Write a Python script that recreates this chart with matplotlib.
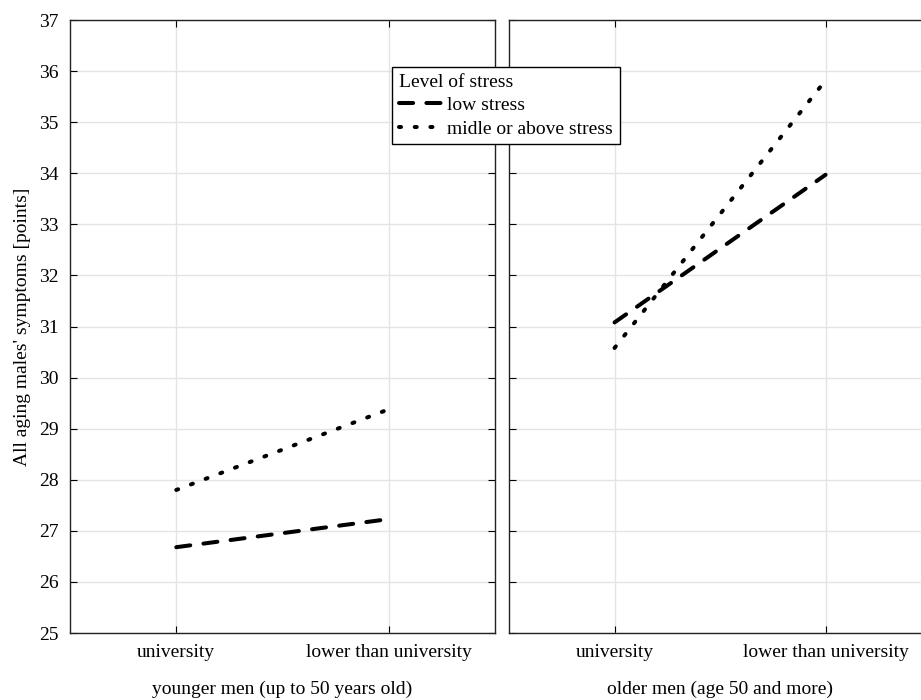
import matplotlib.pyplot as plt

# Дані з графіка
categories = ["university", "lower than university"]
groups = ["younger men (up to 50 years old)", "older men (age 50 and more)"]
low_stress = [[26.68, 27.23], [31.08, 33.97]]
midle_stress = [[27.8, 29.38], [30.58, 35.82]]
series_names = ["low stress", "midle or above stress"]

plt.rcParams['font.family'] = ['Liberation Serif', 'DejaVu Serif']
plt.rcParams['font.size'] = 14

fig = plt.figure(figsize=(9.21, 7), dpi=100)
ax1 = fig.add_axes([0.076, 0.0957, 0.4615, 0.8757])
ax2 = fig.add_axes([0.5527, 0.0957, 0.4582, 0.8757])

handles = []
for i, ax in enumerate([ax1, ax2]):
    x = list(range(len(categories)))
    l1, = ax.plot(x, low_stress[i], color="black", lw=2.9,
                  dashes=(3.5, 3.3), dash_capstyle="round", label=series_names[0])
    l2, = ax.plot(x, midle_stress[i], color="black", lw=2.9,
                  dashes=(0.5, 3.4), dash_capstyle="round", label=series_names[1])
    handles = [l1, l2]
    ax.set_xlim(-0.5, 1.5)
    ax.set_ylim(25, 37)
    ax.set_yticks(range(25, 38))
    ax.set_xticks(x)
    ax.set_xticklabels(categories)
    ax.set_xlabel(groups[i], labelpad=14)
    ax.grid(True, color="#e4e4e4", lw=1)
    ax.set_axisbelow(True)
    ax.tick_params(direction="in", top=True, right=True, length=5, pad=8)
    for s in ax.spines.values():
        s.set_color("#222222")
        s.set_linewidth(1.0)

ax2.tick_params(labelleft=False)
ax1.set_ylabel("All aging males' symptoms [points]", labelpad=6)

fig.legend(handles=handles, title="Level of stress", loc="upper left",
           bbox_to_anchor=(0.4256, 0.9043), alignment="left",
           fancybox=False, framealpha=1, edgecolor="black",
           handlelength=2.2, handletextpad=0.3, borderpad=0.35,
           labelspacing=0.3, borderaxespad=0)

fig.savefig("out.png", dpi=100)
